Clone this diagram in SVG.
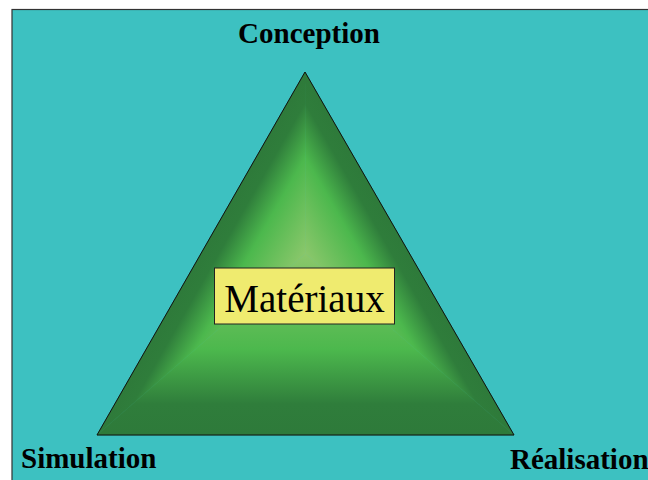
<svg xmlns="http://www.w3.org/2000/svg" width="648" height="480" viewBox="0 0 648 480">
<style>
.lbl{font-family:"Liberation Serif","Times New Roman",serif;font-weight:bold;font-size:29px;fill:#000}
.mat{font-family:"Liberation Serif","Times New Roman",serif;font-size:39px;fill:#000}
</style>
<defs>
<linearGradient id="gB" gradientUnits="userSpaceOnUse" x1="305.5" y1="435" x2="305.5" y2="253.5">
<stop offset="0" stop-color="#2E7A3A"/><stop offset="0.17" stop-color="#2F7D3B"/><stop offset="0.47" stop-color="#4CB84D"/><stop offset="1" stop-color="#8AC76B"/>
</linearGradient>
<linearGradient id="gL" gradientUnits="userSpaceOnUse" x1="226.8" y1="208.4" x2="305.5" y2="253.5">
<stop offset="0" stop-color="#2E7A3A"/><stop offset="0.17" stop-color="#2F7D3B"/><stop offset="0.47" stop-color="#4CB84D"/><stop offset="1" stop-color="#8AC76B"/>
</linearGradient>
<linearGradient id="gR" gradientUnits="userSpaceOnUse" x1="383.6" y1="208.5" x2="305.5" y2="253.5">
<stop offset="0" stop-color="#2E7A3A"/><stop offset="0.17" stop-color="#2F7D3B"/><stop offset="0.47" stop-color="#4CB84D"/><stop offset="1" stop-color="#8AC76B"/>
</linearGradient>
</defs>
<rect x="0" y="0" width="648" height="480" fill="#fff"/>
<rect x="12" y="9.5" width="660" height="490" fill="#3DC1C1" stroke="#333" stroke-width="1.2"/>
<g id="triangle">
<polygon points="305.5,253.5 97,435 514,435" fill="url(#gB)" stroke="url(#gB)" stroke-width="0.5"/>
<polygon points="305.5,253.5 305,72 97,435" fill="url(#gL)" stroke="url(#gL)" stroke-width="0.5"/>
<polygon points="305.5,253.5 305,72 514,435" fill="url(#gR)" stroke="url(#gR)" stroke-width="0.5"/>
<polygon points="305,72 97,435 514,435" fill="none" stroke="#111" stroke-width="1"/>
</g>
<g id="materiaux">
<rect x="214.5" y="268" width="180" height="56" fill="#EFEB6F" stroke="#222" stroke-width="1"/>
<text class="mat" x="304.5" y="311.5" text-anchor="middle">Matériaux</text>
</g>
<g id="conception"><text class="lbl" x="309" y="43" text-anchor="middle">Conception</text></g>
<g id="simulation"><text class="lbl" x="21" y="467.5">Simulation</text></g>
<g id="realisation"><text class="lbl" x="510" y="469">Réalisation</text></g>
</svg>
